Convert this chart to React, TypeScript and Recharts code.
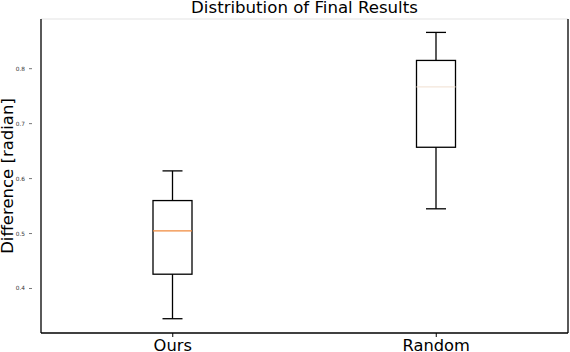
import React from 'react';
import { ComposedChart, Bar, XAxis, YAxis } from 'recharts';

const categories = ['Ours', 'Random'];
const whiskerLow = [0.345, 0.545];
const quartile1 = [0.426, 0.657];
const medians = [0.505, 0.767];
const quartile3 = [0.56, 0.815];
const whiskerHigh = [0.614, 0.866];
const medianColors = ['#f08a3c', '#f3e6da'];
const yTicks = [0.4, 0.5, 0.6, 0.7, 0.8];
const yDomain = [0.319, 0.8904];
const titleText = 'Distribution of Final Results';
const yLabelText = 'Difference [radian]';

const data = categories.map((name, i) => ({
  name,
  range: [whiskerLow[i], whiskerHigh[i]],
  low: whiskerLow[i],
  q1: quartile1[i],
  med: medians[i],
  q3: quartile3[i],
  high: whiskerHigh[i],
  color: medianColors[i],
}));

const FONT = 'DejaVu Sans, sans-serif';

const BoxShape = (props: any) => {
  const { x, y, width, height, payload } = props;
  const top = Math.min(y, y + height);
  const bottom = Math.max(y, y + height);
  const { low, q1, med, q3, high, color } = payload;
  const py = (v: number) => top + ((high - v) / (high - low)) * (bottom - top);
  const cx = x + width / 2;
  const capHalf = 10;
  const sw = 1.3;
  return (
    <g>
      <line x1={cx} x2={cx} y1={py(high)} y2={py(q3)} stroke="#000" strokeWidth={sw} />
      <line x1={cx} x2={cx} y1={py(q1)} y2={py(low)} stroke="#000" strokeWidth={sw} />
      <line x1={cx - capHalf} x2={cx + capHalf} y1={py(high)} y2={py(high)} stroke="#000" strokeWidth={sw} />
      <line x1={cx - capHalf} x2={cx + capHalf} y1={py(low)} y2={py(low)} stroke="#000" strokeWidth={sw} />
      <rect x={x} y={py(q3)} width={width} height={py(q1) - py(q3)} fill="none" stroke="#000" strokeWidth={sw} />
      <line x1={x} x2={x + width} y1={py(med)} y2={py(med)} stroke={color} strokeWidth={sw} />
    </g>
  );
};

const YTick = (props: any) => {
  const { y, payload } = props;
  return (
    <g>
      <text x={25} y={y} textAnchor="end" dominantBaseline="central" fontSize={5.8} fill="#333" fontFamily={FONT}>
        {payload.value.toFixed(1)}
      </text>
      <line x1={29} x2={32} y1={y} y2={y} stroke="#555" strokeWidth={0.8} />
    </g>
  );
};

const YLabel = (props: any) => {
  const vb = props.viewBox || { y: 19, height: 314 };
  const cy = vb.y + vb.height / 2;
  return (
    <text x={13} y={cy} transform={`rotate(-90, 13, ${cy})`} textAnchor="middle" fontSize={16.5} fill="#000" fontFamily={FONT}>
      {yLabelText}
    </text>
  );
};

const Title = () => (
  <text x={304.5} y={13.2} textAnchor="middle" fontSize={16.6} fill="#000" fontFamily={FONT}>
    {titleText}
  </text>
);

export default function App() {
  return (
    <div style={{ position: 'absolute', left: 0, top: 0, width: 570, height: 352, background: '#fff' }}>
      <ComposedChart width={570} height={352} data={data} margin={{ top: 0, right: 0, bottom: 0, left: 0 }} style={{ fontFamily: FONT }}>
        <XAxis
          dataKey="name"
          height={19}
          tickSize={4}
          tickMargin={2}
          tick={{ fontSize: 16.3, fill: '#000', fontFamily: FONT }}
          tickLine={{ stroke: '#000' }}
          axisLine={{ stroke: '#000', strokeWidth: 1.3 }}
        />
        <XAxis
          xAxisId="top"
          orientation="top"
          dataKey="name"
          height={19}
          tick={false}
          tickLine={false}
          axisLine={{ stroke: '#ececec', strokeWidth: 1.3 }}
          label={{ content: Title }}
        />
        <YAxis
          type="number"
          width={41}
          domain={yDomain}
          ticks={yTicks}
          allowDataOverflow
          tick={YTick}
          tickLine={false}
          axisLine={{ stroke: '#000', strokeWidth: 1.3 }}
          label={{ content: YLabel }}
        />
        <YAxis
          yAxisId="right"
          orientation="right"
          type="number"
          width={2}
          domain={yDomain}
          allowDataOverflow
          tick={false}
          tickLine={false}
          axisLine={{ stroke: '#000', strokeWidth: 1.3 }}
        />
        <Bar dataKey="range" barSize={39} shape={BoxShape} isAnimationActive={false} />
      </ComposedChart>
    </div>
  );
}
